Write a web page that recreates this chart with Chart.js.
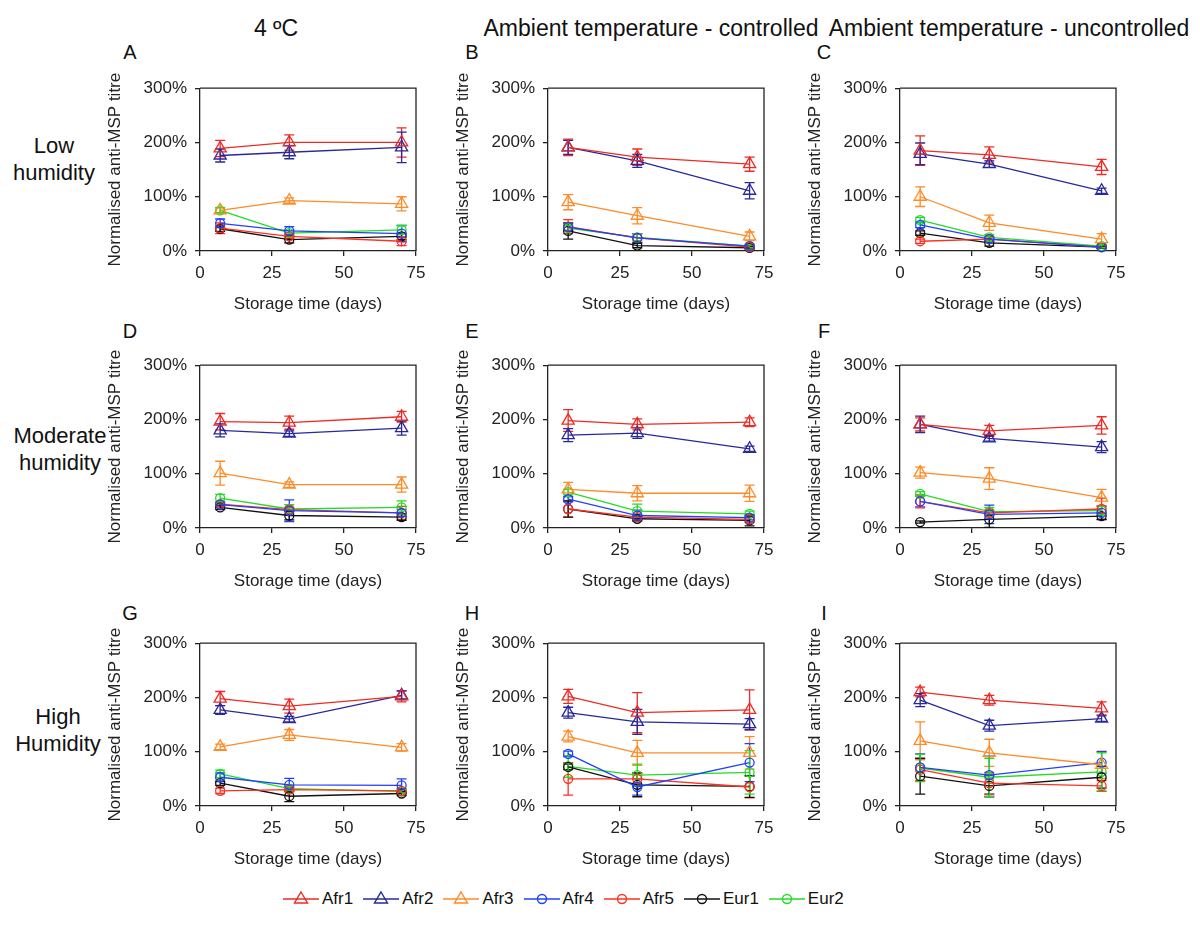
<!DOCTYPE html>
<html>
<head>
<meta charset="utf-8">
<script src="https://cdn.jsdelivr.net/npm/chart.js@4.4.1/dist/chart.umd.min.js"></script>
<style>
  body { margin: 0; background: #fff; font-family: "Liberation Sans", Arial, sans-serif; color: #111; }
  #page { position: relative; width: 1200px; height: 933px; overflow: hidden; }
  canvas { position: absolute; }
  .lbl { position: absolute; transform: translate(-50%, -50%); white-space: nowrap; text-align: center; }
  .col { font-size: 23px; }
  .let { font-size: 20px; }
  .row { font-size: 22px; line-height: 27px; }
  #legend { position: absolute; left: 283px; top: 889px; display: flex; align-items: center; font-size: 17px; }
  #legend .item { display: flex; align-items: center; margin-right: 10px; }
  #legend svg { margin-right: 3px; }
</style>
</head>
<body>
<div id="page">
  <div class="lbl col" style="left:276px;top:28px">4 ºC</div>
  <div class="lbl col" style="left:651px;top:28px">Ambient temperature - controlled</div>
  <div class="lbl col" style="left:1009px;top:28px">Ambient temperature - uncontrolled</div>

  <div class="lbl row" style="left:54px;top:159px">Low<br>humidity</div>
  <div class="lbl row" style="left:60px;top:449px">Moderate<br>humidity</div>
  <div class="lbl row" style="left:58px;top:730px">High<br>Humidity</div>

  <div class="lbl let" style="left:130px;top:52px">A</div>
  <div class="lbl let" style="left:472px;top:52px">B</div>
  <div class="lbl let" style="left:824px;top:52px">C</div>
  <div class="lbl let" style="left:130px;top:331px">D</div>
  <div class="lbl let" style="left:472px;top:331px">E</div>
  <div class="lbl let" style="left:824px;top:331px">F</div>
  <div class="lbl let" style="left:130px;top:613px">G</div>
  <div class="lbl let" style="left:472px;top:613px">H</div>
  <div class="lbl let" style="left:824px;top:613px">I</div>

  <canvas id="pA" width="346" height="251" style="left:90px;top:70px"></canvas>
  <canvas id="pB" width="346" height="251" style="left:438px;top:70px"></canvas>
  <canvas id="pC" width="346" height="251" style="left:790px;top:70px"></canvas>
  <canvas id="pD" width="346" height="251" style="left:90px;top:347px"></canvas>
  <canvas id="pE" width="346" height="251" style="left:438px;top:347px"></canvas>
  <canvas id="pF" width="346" height="251" style="left:790px;top:347px"></canvas>
  <canvas id="pG" width="346" height="251" style="left:90px;top:625px"></canvas>
  <canvas id="pH" width="346" height="251" style="left:438px;top:625px"></canvas>
  <canvas id="pI" width="346" height="251" style="left:790px;top:625px"></canvas>

  <div id="legend"></div>
</div>
<script>
// series and storage days
var seriesNames = ['Afr1', 'Afr2', 'Afr3', 'Afr4', 'Afr5', 'Eur1', 'Eur2'];
var seriesColors = ['#ee2a24', '#28289a', '#ff8a26', '#2040ff', '#ff3020', '#111111', '#22dd22'];
var seriesMarkers = ['triangle', 'triangle', 'triangle', 'circle', 'circle', 'circle', 'circle'];
var days = [7, 31, 70];
var yTicks = [0, 100, 200, 300];

// A - 4 ºC, low humidity
var meanA = [[189,200,200],[176,182,191],[75,93,87],[51,37,32],[42,27,18],[41,21,27],[75,33,39]];
var errA  = [[15,14,27],[12,12,28],[5,5,13],[8,8,15],[10,4,8],[5,6,6],[5,5,8]];
// B - ambient controlled, low humidity
var meanB = [[191,173,160],[191,166,111],[90,65,27],[44,24,9],[45,24,7],[37,10,6],[42,25,9]];
var errB  = [[15,15,13],[13,12,15],[14,15,8],[6,8,3],[13,8,3],[15,4,2],[5,6,3]];
// C - ambient uncontrolled, low humidity
var meanC = [[185,177,155],[179,160,111],[100,52,22],[48,22,7],[18,22,7],[33,15,7],[57,25,9]];
var errC  = [[27,15,14],[20,6,5],[18,14,10],[5,5,2],[4,4,2],[4,6,2],[5,5,3]];
// D - 4 ºC, moderate humidity
var meanD = [[196,194,205],[180,174,184],[101,80,80],[43,32,28],[44,34,28],[38,23,20],[55,35,38]];
var errD  = [[15,12,10],[12,5,13],[22,5,14],[4,20,6],[4,4,12],[4,8,6],[7,8,12]];
// E - ambient controlled, moderate humidity
var meanE = [[198,191,195],[171,175,146],[71,64,64],[53,23,19],[35,20,16],[35,17,14],[66,31,26]];
var errE  = [[20,10,8],[12,10,5],[13,14,15],[5,10,4],[15,4,5],[15,4,10],[5,13,5]];
// F - ambient uncontrolled, moderate humidity
var meanF = [[191,179,189],[191,165,149],[102,91,56],[49,25,28],[49,28,35],[11,16,22],[63,30,32]];
var errF  = [[12,10,16],[15,5,10],[10,20,15],[10,17,12],[12,5,20],[2,15,6],[4,8,8]];
// G - 4 ºC, high humidity
var meanG = [[198,184,202],[177,160,204],[109,131,108],[53,39,38],[28,30,28],[42,18,23],[59,32,27]];
var errG  = [[13,13,10],[8,5,8],[5,10,7],[8,12,12],[5,4,4],[4,10,4],[7,4,4]];
// H - ambient controlled, high humidity
var meanH = [[202,172,177],[172,155,151],[128,98,98],[96,35,80],[50,50,35],[72,39,36],[73,57,62]];
var errH  = [[13,37,37],[10,23,10],[10,23,30],[5,15,35],[30,10,20],[5,22,20],[20,20,40]];
// I - ambient uncontrolled, high humidity
var meanI = [[210,195,180],[195,148,161],[120,98,76],[71,57,80],[67,42,37],[55,37,53],[70,53,63]];
var errI  = [[9,9,12],[12,10,5],[35,25,25],[25,35,20],[20,20,10],[33,20,20],[25,35,35]];

var fontFam = '"Liberation Sans", Arial, sans-serif';
var axisCol = '#222';

// vertical error bars with caps, drawn under the markers
var errorBars = {
    id: 'errorBars',
    beforeDatasetsDraw: function(chart) {
        var ctx = chart.ctx;
        var yScale = chart.scales.y;
        chart.data.datasets.forEach(function(ds, i) {
            var meta = chart.getDatasetMeta(i);
            ctx.save();
            ctx.strokeStyle = ds.borderColor;
            ctx.lineWidth = 1.3;
            meta.data.forEach(function(pt, j) {
                var e = ds.errors[j];
                var v = ds.data[j].y;
                var yTop = yScale.getPixelForValue(v + e);
                var yBot = yScale.getPixelForValue(Math.max(v - e, 0));
                ctx.beginPath();
                ctx.moveTo(pt.x, yTop); ctx.lineTo(pt.x, yBot);
                ctx.moveTo(pt.x - 5, yTop); ctx.lineTo(pt.x + 5, yTop);
                ctx.moveTo(pt.x - 5, yBot); ctx.lineTo(pt.x + 5, yBot);
                ctx.stroke();
            });
            ctx.restore();
        });
    }
};

// top and right edges of the plot box
var frame = {
    id: 'frame',
    afterDraw: function(chart) {
        var ctx = chart.ctx, a = chart.chartArea;
        ctx.save();
        ctx.strokeStyle = axisCol;
        ctx.lineWidth = 1.3;
        ctx.beginPath();
        ctx.moveTo(a.left, a.top); ctx.lineTo(a.right, a.top); ctx.lineTo(a.right, a.bottom);
        ctx.stroke();
        ctx.restore();
    }
};

function makePanel(id, means, errs) {
    var datasets = seriesNames.map(function(name, k) {
        return {
            label: name,
            data: days.map(function(d, j) { return { x: d, y: means[k][j] }; }),
            errors: errs[k],
            borderColor: seriesColors[k],
            backgroundColor: 'rgba(0,0,0,0)',
            borderWidth: 1.3,
            pointStyle: seriesMarkers[k],
            pointRadius: seriesMarkers[k] === 'triangle' ? 7 : 4.5,
            pointBorderWidth: 1.3,
            tension: 0,
            clip: false
        };
    });
    var ctx = document.getElementById(id).getContext('2d');
    return new Chart(ctx, {
        type: 'line',
        data: { datasets: datasets },
        options: {
            responsive: false,
            animation: false,
            events: [],
            layout: { padding: { top: 15, right: 20, left: 0, bottom: 0 } },
            plugins: { legend: { display: false }, tooltip: { enabled: false } },
            scales: {
                x: {
                    type: 'linear', min: 0, max: 75,
                    ticks: { stepSize: 25, padding: 7, color: axisCol, font: { family: fontFam, size: 17 } },
                    grid: { drawOnChartArea: false, tickLength: 5, color: axisCol, lineWidth: 1.3 },
                    border: { color: axisCol, width: 1.3 },
                    title: { display: true, text: 'Storage time (days)', color: axisCol,
                             font: { family: fontFam, size: 17 }, padding: { top: 0, bottom: 6 } },
                    afterFit: function(s) { s.height = 70; }
                },
                y: {
                    min: 0, max: 300,
                    afterBuildTicks: function(s) { s.ticks = yTicks.map(function(v) { return { value: v }; }); },
                    ticks: { padding: 8, color: axisCol, font: { family: fontFam, size: 17 },
                             callback: function(v) { return v + '%'; } },
                    grid: { drawOnChartArea: false, tickLength: 5, color: axisCol, lineWidth: 1.3 },
                    border: { color: axisCol, width: 1.3 },
                    title: { display: true, text: 'Normalised anti-MSP titre', color: axisCol,
                             font: { family: fontFam, size: 17 }, padding: { top: 15, bottom: 0 } },
                    afterFit: function(s) { s.width = 110; }
                }
            }
        },
        plugins: [errorBars, frame]
    });
}

makePanel('pA', meanA, errA);
makePanel('pB', meanB, errB);
makePanel('pC', meanC, errC);
makePanel('pD', meanD, errD);
makePanel('pE', meanE, errE);
makePanel('pF', meanF, errF);
makePanel('pG', meanG, errG);
makePanel('pH', meanH, errH);
makePanel('pI', meanI, errI);

// legend: line with marker, then name
var legend = document.getElementById('legend');
seriesNames.forEach(function(name, k) {
    var c = seriesColors[k];
    var mark = seriesMarkers[k] === 'triangle'
        ? '<polygon points="18,3 24.5,14 11.5,14" fill="none" stroke="' + c + '" stroke-width="1.4"/>'
        : '<circle cx="18" cy="10" r="4.5" fill="none" stroke="' + c + '" stroke-width="1.4"/>';
    var item = document.createElement('div');
    item.className = 'item';
    item.innerHTML = '<svg width="36" height="20"><line x1="0" y1="10" x2="36" y2="10" stroke="' + c +
        '" stroke-width="1.4"/>' + mark + '</svg><span>' + name + '</span>';
    legend.appendChild(item);
});
</script>
</body>
</html>
